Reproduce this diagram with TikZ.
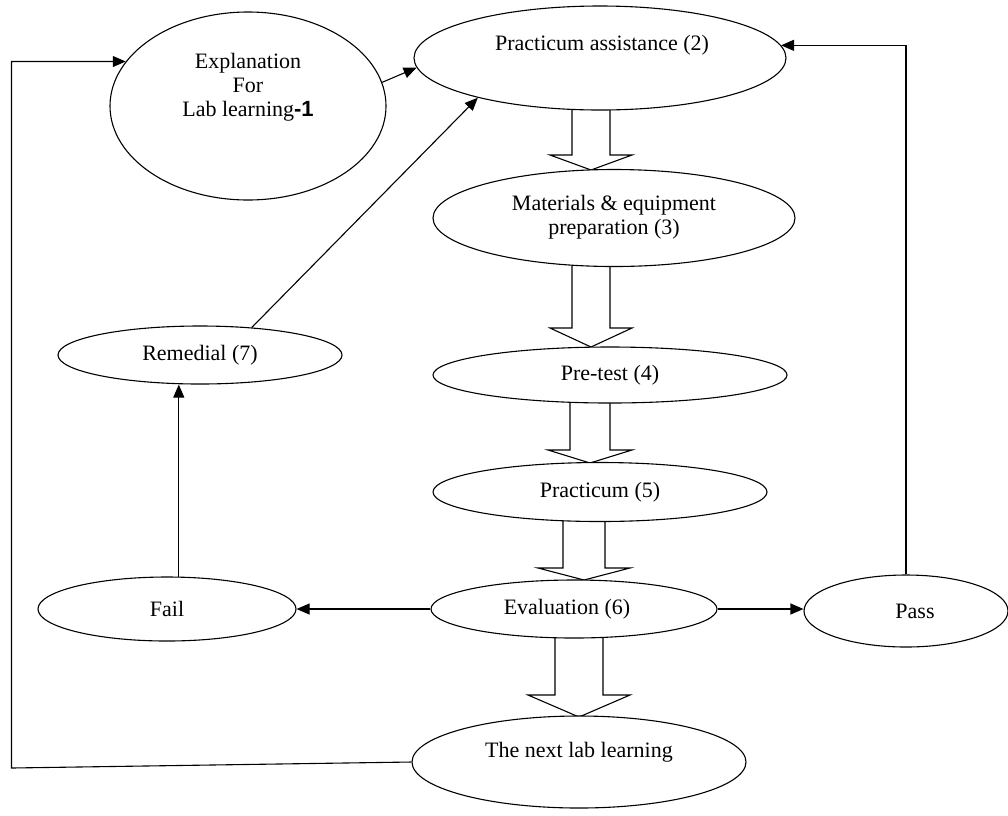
\documentclass[tikz,border=0pt]{standalone}
\usepackage{fontspec}
\setmainfont{Liberation Serif}
\setsansfont{Liberation Sans}
\usetikzlibrary{shapes.geometric,arrows.meta}
\newcommand\blkarrow[6]{%
  \draw[blk] (#1-#2,#4) -- (#1-#2,#5) -- (#1-#3,#5) -- (#1,#6) -- (#1+#3,#5) -- (#1+#2,#5) -- (#1+#2,#4);}
\begin{document}
\begin{tikzpicture}[x=1pt,y=-1pt,
  ell/.style={draw,ellipse,line width=1.1pt,fill=white,inner sep=0pt},
  txt/.style={font=\fontsize{22}{24}\selectfont,align=center,inner sep=0pt},
  arr/.style={line width=1.1pt,-{Triangle[length=13pt,width=11pt]}},
  blk/.style={line width=1.1pt,fill=white,line join=miter}]
\useasboundingbox (0,0) rectangle (1008,815);
% block arrows (drawn first, ellipses cover their tops)
\blkarrow{591}{19}{41}{100}{155}{170}
\blkarrow{591}{19}{41}{257}{328}{347}
\blkarrow{590}{20}{42}{395}{450}{463}
\blkarrow{584}{21}{46}{512}{568}{580}
\blkarrow{579}{24}{51}{628}{695}{717}
% ellipses
\node[ell,minimum width=276pt,minimum height=188pt] (expl) at (248,106) {};
\node[txt] (explt) at (248,87) {Explanation\\For\\Lab learning{\sffamily\bfseries -1}};
\node[ell,minimum width=372pt,minimum height=104pt] (pa) at (600,58) {};
\node[txt] (pat) at (602,45) {Practicum assistance (2)};
\node[ell,minimum width=362pt,minimum height=97pt] (mat) at (614,218) {};
\node[txt] (matt) at (614,217) {Materials \& equipment\\preparation (3)};
\node[ell,minimum width=354pt,minimum height=56pt] (pre) at (610,375) {};
\node[txt] (pret) at (610,375) {Pre-test (4)};
\node[ell,minimum width=334pt,minimum height=59pt] (prac) at (600,492) {};
\node[txt] (pract) at (600,492) {Practicum (5)};
\node[ell,minimum width=286pt,minimum height=58pt] (eval) at (574,609) {};
\node[txt] (evalt) at (567,609) {Evaluation (6)};
\node[ell,minimum width=258pt,minimum height=64pt] (fail) at (167,609) {};
\node[txt] (failt) at (167,609) {Fail};
\node[ell,minimum width=204pt,minimum height=72pt] (pass) at (906,611) {};
\node[txt] (passt) at (915,611) {Pass};
\node[ell,minimum width=284pt,minimum height=58pt] (rem) at (200,355) {};
\node[txt] (remt) at (200,355) {Remedial (7)};
\node[ell,minimum width=334pt,minimum height=92pt] (next) at (579,762) {};
\node[txt] (nextt) at (579,752) {The next lab learning};
% connectors
\draw[arr] (expl.10) -- (pa.183);
\draw[arr] (pass.north) |- (pa.4.5);
\draw[arr] (rem.28) -- (pa.198);
\draw[arr] (fail.70) -- (fail.70 |- rem.south);
\draw[arr] (eval.west) -- (eval.west -| fail.east);
\draw[arr] (eval.east) -- (eval.east -| pass.west);
\draw[arr] (next.west) -- ++(-400,6) coordinate (lc) |- (expl.160.7);
\end{tikzpicture}
\end{document}
